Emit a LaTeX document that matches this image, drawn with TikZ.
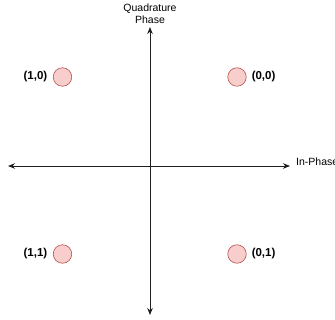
\documentclass[tikz,border=0pt]{standalone}
\usepackage{fontspec}
\setmainfont{Liberation Sans}
\usetikzlibrary{arrows.meta}
\begin{document}
\begin{tikzpicture}[x=1pt,y=-1pt,
  pt/.style={circle,draw={rgb,255:red,184;green,84;blue,80},fill={rgb,255:red,248;green,206;blue,204},minimum size=18.5pt,inner sep=0pt,line width=0.6pt},
  lab/.style={font=\bfseries\fontsize{11.5}{13}\selectfont,inner sep=0pt},
  axis/.style={line width=0.8pt,draw={rgb,255:red,30;green,30;blue,30},{Stealth[length=7pt,width=5.5pt]}-{Stealth[length=7pt,width=5.5pt]}},
  axlab/.style={font=\fontsize{10.5}{12}\selectfont,inner sep=0pt,align=center}]
\useasboundingbox (0,0) rectangle (335,320);
\coordinate (top) at (150,27);
\coordinate (bot) at (150,315);
\coordinate (left) at (8,166);
\coordinate (right) at (290,166);
\draw[axis] (left) -- (right);
\draw[axis] (bot) -- (top);
\node[axlab,anchor=south] (q) at (150,23.5) {Quadrature\\Phase};
\node[axlab,anchor=base west] (ip) at (296,166) {In-Phase};
\node[pt] (p10) at (62.5,77) {};
\node[pt] (p00) at (237,77) {};
\node[pt] (p11) at (62.5,254) {};
\node[pt] (p01) at (237,254) {};
\node[lab,anchor=east] at ([xshift=-5.5pt]p10.west) {(1,0)};
\node[lab,anchor=west] at ([xshift=5pt]p00.east) {(0,0)};
\node[lab,anchor=east] at ([xshift=-5.5pt]p11.west) {(1,1)};
\node[lab,anchor=west] at ([xshift=5pt]p01.east) {(0,1)};
\end{tikzpicture}
\end{document}
